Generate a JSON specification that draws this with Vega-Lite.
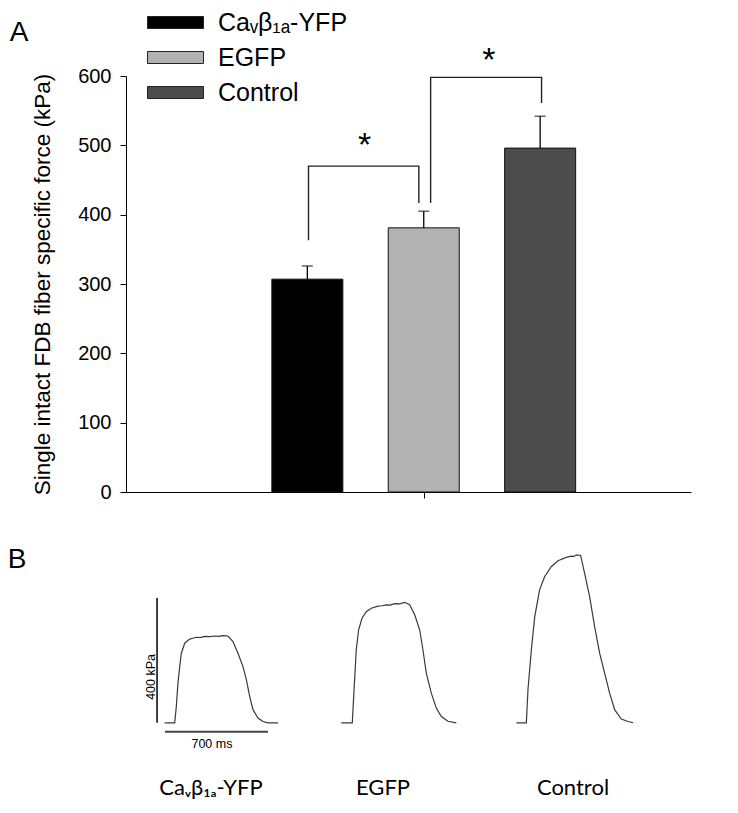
{
  "$schema": "https://vega.github.io/schema/vega-lite/v6.json",
  "padding": {"left": 7, "top": 10, "right": 5, "bottom": 5},
  "config": {"view": {"stroke": null}, "font": "Liberation Sans"},
  "spacing": 43,
  "vconcat": [
    {
      "width": 565,
      "height": 416,
      "layer": [
        {
          "data": {"values": [
            {"group": "Caᵥβ₁ₐ-YFP", "pos": 1, "force": 307, "upper": 326},
            {"group": "EGFP", "pos": 2, "force": 381, "upper": 405},
            {"group": "Control", "pos": 3, "force": 496, "upper": 542}
          ]},
          "layer": [
            {
              "mark": {"type": "bar", "orient": "vertical", "size": 71, "stroke": "#111", "strokeWidth": 1},
              "encoding": {
                "x": {"field": "pos", "type": "quantitative",
                  "scale": {"domain": [-0.515, 4.253], "nice": false, "zero": false},
                  "axis": {"values": [2], "labels": false, "tickSize": 6, "title": null, "grid": false, "domainColor": "#000", "tickColor": "#000"}},
                "y": {"field": "force", "type": "quantitative",
                  "scale": {"domain": [0, 600], "nice": false},
                  "axis": {"values": [0, 100, 200, 300, 400, 500, 600], "tickSize": 6, "grid": false,
                    "labelFontSize": 20, "labelColor": "#000", "labelPadding": 9, "labelFont": "Liberation Sans",
                    "title": "Single intact FDB fiber specific force (kPa)", "titleFontSize": 22.5, "titleFontWeight": "normal",
                    "titleColor": "#000", "titlePadding": 23, "titleFont": "Liberation Sans",
                    "domainColor": "#000", "tickColor": "#000"}},
                "color": {"field": "group", "type": "nominal",
                  "scale": {"domain": ["Caᵥβ₁ₐ-YFP", "EGFP", "Control"], "range": ["#000000", "#b2b2b2", "#4c4c4c"]},
                  "legend": {"title": null, "orient": "none", "legendX": 37, "legendY": -66,
                    "symbolType": "M-4.667,-1L4.667,-1L4.667,1L-4.667,1Z", "symbolSize": 144,
                    "symbolStrokeColor": "#222", "symbolStrokeWidth": 1, "symbolOpacity": 1,
                    "labelFontSize": 25, "labelFont": "Liberation Sans", "labelColor": "#000",
                    "labelOffset": 30, "rowPadding": 9}}
              }
            },
            {
              "mark": {"type": "rule", "color": "#000", "strokeWidth": 1.3},
              "encoding": {
                "x": {"field": "pos", "type": "quantitative"},
                "y": {"field": "force", "type": "quantitative"},
                "y2": {"field": "upper"}
              }
            },
            {
              "mark": {"type": "tick", "orient": "horizontal", "size": 11, "thickness": 1.3, "color": "#000"},
              "encoding": {
                "x": {"field": "pos", "type": "quantitative"},
                "y": {"field": "upper", "type": "quantitative"}
              }
            }
          ]
        },
        {
          "data": {"values": [
            {"bracket": "L", "k": 1, "x": 1.01, "y": 363},
            {"bracket": "L", "k": 2, "x": 1.01, "y": 470},
            {"bracket": "L", "k": 3, "x": 1.958, "y": 470},
            {"bracket": "L", "k": 4, "x": 1.958, "y": 417},
            {"bracket": "R", "k": 1, "x": 2.059, "y": 417},
            {"bracket": "R", "k": 2, "x": 2.059, "y": 598},
            {"bracket": "R", "k": 3, "x": 3.012, "y": 598},
            {"bracket": "R", "k": 4, "x": 3.012, "y": 561}
          ]},
          "mark": {"type": "line", "color": "#222", "strokeWidth": 1.4},
          "encoding": {
            "x": {"field": "x", "type": "quantitative"},
            "y": {"field": "y", "type": "quantitative"},
            "detail": {"field": "bracket"},
            "order": {"field": "k", "type": "quantitative"}
          }
        },
        {
          "data": {"values": [
            {"x": 1.493, "y": 499, "label": "*"},
            {"x": 2.56, "y": 622, "label": "*"}
          ]},
          "mark": {"type": "text", "fontSize": 34, "font": "Liberation Sans", "color": "#000", "baseline": "middle", "align": "center"},
          "encoding": {
            "x": {"field": "x", "type": "quantitative"},
            "y": {"field": "y", "type": "quantitative"},
            "text": {"field": "label"}
          }
        },
        {
          "data": {"values": [{"x": -1.477, "y": 662, "label": "A"}]},
          "mark": {"type": "text", "fontSize": 28, "font": "Liberation Sans", "color": "#000", "baseline": "middle", "align": "center"},
          "encoding": {
            "x": {"field": "x", "type": "quantitative"},
            "y": {"field": "y", "type": "quantitative"},
            "text": {"field": "label"}
          }
        }
      ]
    },
    {
      "width": 565,
      "height": 206,
      "layer": [
        {
          "data": {"values": [
            {"trace": "a", "t": 263, "f": 0},
            {"trace": "a", "t": 331, "f": 0},
            {"trace": "a", "t": 342, "f": 52},
            {"trace": "a", "t": 353, "f": 127},
            {"trace": "a", "t": 365, "f": 180},
            {"trace": "a", "t": 376, "f": 223},
            {"trace": "a", "t": 399, "f": 255},
            {"trace": "a", "t": 433, "f": 268},
            {"trace": "a", "t": 455, "f": 271},
            {"trace": "a", "t": 478, "f": 274},
            {"trace": "a", "t": 505, "f": 273},
            {"trace": "a", "t": 535, "f": 277},
            {"trace": "a", "t": 570, "f": 276},
            {"trace": "a", "t": 603, "f": 278},
            {"trace": "a", "t": 630, "f": 277},
            {"trace": "a", "t": 659, "f": 279},
            {"trace": "a", "t": 693, "f": 278},
            {"trace": "a", "t": 727, "f": 260},
            {"trace": "a", "t": 761, "f": 223},
            {"trace": "a", "t": 795, "f": 180},
            {"trace": "a", "t": 818, "f": 138},
            {"trace": "a", "t": 841, "f": 84},
            {"trace": "a", "t": 863, "f": 42},
            {"trace": "a", "t": 897, "f": 15},
            {"trace": "a", "t": 931, "f": 4},
            {"trace": "a", "t": 965, "f": 0},
            {"trace": "a", "t": 1033, "f": 0},
            {"trace": "b", "t": 1463, "f": 0},
            {"trace": "b", "t": 1538, "f": 0},
            {"trace": "b", "t": 1550, "f": 106},
            {"trace": "b", "t": 1565, "f": 234},
            {"trace": "b", "t": 1581, "f": 298},
            {"trace": "b", "t": 1604, "f": 335},
            {"trace": "b", "t": 1633, "f": 356},
            {"trace": "b", "t": 1667, "f": 367},
            {"trace": "b", "t": 1713, "f": 374},
            {"trace": "b", "t": 1740, "f": 375},
            {"trace": "b", "t": 1769, "f": 378},
            {"trace": "b", "t": 1795, "f": 377},
            {"trace": "b", "t": 1826, "f": 382},
            {"trace": "b", "t": 1860, "f": 381},
            {"trace": "b", "t": 1894, "f": 386},
            {"trace": "b", "t": 1928, "f": 378},
            {"trace": "b", "t": 1962, "f": 346},
            {"trace": "b", "t": 1996, "f": 298},
            {"trace": "b", "t": 2018, "f": 234},
            {"trace": "b", "t": 2041, "f": 159},
            {"trace": "b", "t": 2075, "f": 95},
            {"trace": "b", "t": 2109, "f": 47},
            {"trace": "b", "t": 2143, "f": 20},
            {"trace": "b", "t": 2188, "f": 5},
            {"trace": "b", "t": 2245, "f": 0},
            {"trace": "c", "t": 2653, "f": 0},
            {"trace": "c", "t": 2721, "f": 0},
            {"trace": "c", "t": 2732, "f": 106},
            {"trace": "c", "t": 2755, "f": 234},
            {"trace": "c", "t": 2778, "f": 340},
            {"trace": "c", "t": 2811, "f": 426},
            {"trace": "c", "t": 2845, "f": 468},
            {"trace": "c", "t": 2890, "f": 500},
            {"trace": "c", "t": 2936, "f": 519},
            {"trace": "c", "t": 2992, "f": 530},
            {"trace": "c", "t": 3026, "f": 534},
            {"trace": "c", "t": 3045, "f": 533},
            {"trace": "c", "t": 3060, "f": 538},
            {"trace": "c", "t": 3090, "f": 536},
            {"trace": "c", "t": 3117, "f": 479},
            {"trace": "c", "t": 3151, "f": 404},
            {"trace": "c", "t": 3185, "f": 308},
            {"trace": "c", "t": 3219, "f": 223},
            {"trace": "c", "t": 3253, "f": 159},
            {"trace": "c", "t": 3287, "f": 95},
            {"trace": "c", "t": 3321, "f": 42},
            {"trace": "c", "t": 3366, "f": 12},
            {"trace": "c", "t": 3412, "f": 4},
            {"trace": "c", "t": 3446, "f": 0}
          ]},
          "mark": {"type": "line", "color": "#3a3a3a", "strokeWidth": 1.2},
          "encoding": {
            "x": {"field": "t", "type": "quantitative", "scale": {"domain": [0, 3840], "nice": false, "zero": false}, "axis": null},
            "y": {"field": "f", "type": "quantitative", "scale": {"domain": [-100, 560], "nice": false, "zero": false}, "axis": null},
            "detail": {"field": "trace"}
          }
        },
        {
          "data": {"values": [{"t": 211, "f": 0, "f2": 400}]},
          "mark": {"type": "rule", "color": "#000", "strokeWidth": 1.5},
          "encoding": {
            "x": {"field": "t", "type": "quantitative"},
            "y": {"field": "f", "type": "quantitative"},
            "y2": {"field": "f2"}
          }
        },
        {
          "data": {"values": [{"t": 265, "t2": 965, "f": -29}]},
          "mark": {"type": "rule", "color": "#444", "strokeWidth": 2},
          "encoding": {
            "x": {"field": "t", "type": "quantitative"},
            "x2": {"field": "t2"},
            "y": {"field": "f", "type": "quantitative"}
          }
        },
        {
          "data": {"values": [{"t": 584, "f": -67, "label": "700 ms"}]},
          "mark": {"type": "text", "fontSize": 12.5, "font": "Liberation Sans", "color": "#000", "baseline": "middle", "align": "center"},
          "encoding": {
            "x": {"field": "t", "type": "quantitative"},
            "y": {"field": "f", "type": "quantitative"},
            "text": {"field": "label"}
          }
        },
        {
          "data": {"values": [{"t": 170, "f": 147, "label": "400 kPa"}]},
          "mark": {"type": "text", "fontSize": 12.5, "font": "Liberation Sans", "color": "#000", "baseline": "middle", "align": "center", "angle": 270},
          "encoding": {
            "x": {"field": "t", "type": "quantitative"},
            "y": {"field": "f", "type": "quantitative"},
            "text": {"field": "label"}
          }
        },
        {
          "data": {"values": [
            {"t": 578, "f": -208, "label": "Caᵥβ₁ₐ-YFP"},
            {"t": 1747, "f": -208, "label": "EGFP"},
            {"t": 3038, "f": -208, "label": "Control"}
          ]},
          "mark": {"type": "text", "fontSize": 22, "font": "Lato", "color": "#000", "baseline": "middle", "align": "center"},
          "encoding": {
            "x": {"field": "t", "type": "quantitative"},
            "y": {"field": "f", "type": "quantitative"},
            "text": {"field": "label"}
          }
        },
        {
          "data": {"values": [{"t": -740, "f": 522, "label": "B"}]},
          "mark": {"type": "text", "fontSize": 28, "font": "Liberation Sans", "color": "#000", "baseline": "middle", "align": "center"},
          "encoding": {
            "x": {"field": "t", "type": "quantitative"},
            "y": {"field": "f", "type": "quantitative"},
            "text": {"field": "label"}
          }
        }
      ]
    }
  ]
}
